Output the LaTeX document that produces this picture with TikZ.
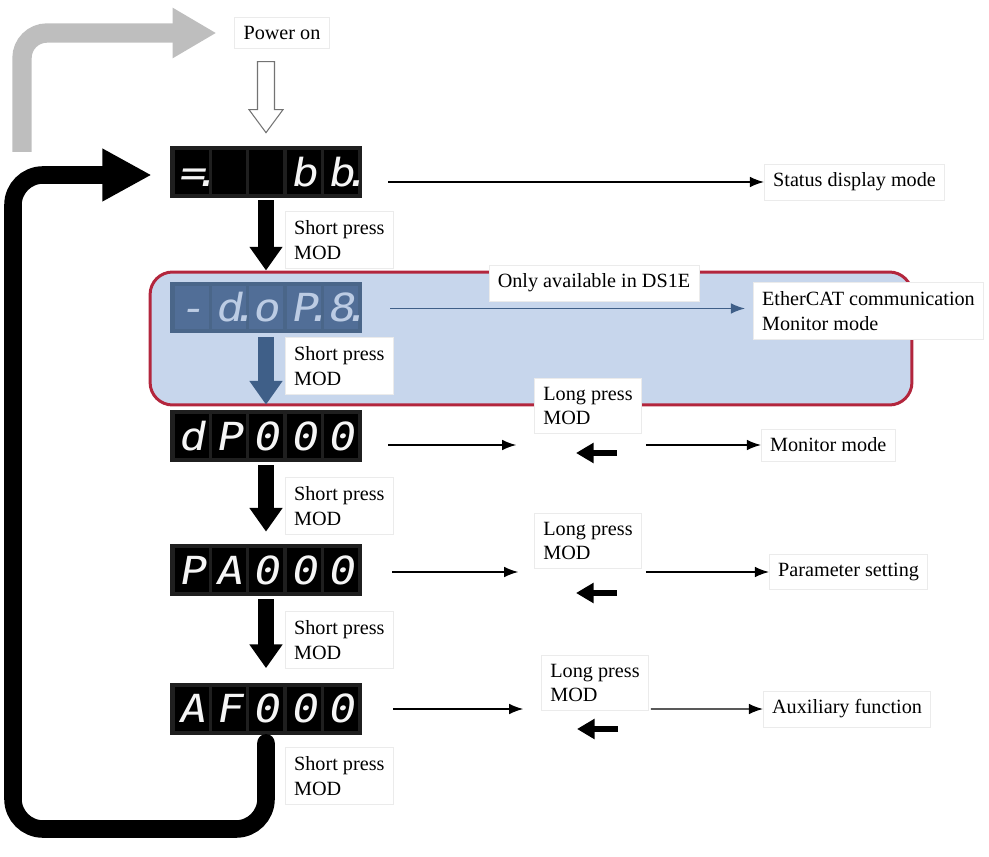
\documentclass[tikz,border=0pt]{standalone}
\usepackage{fontspec}
\setmainfont{Liberation Serif}
\newfontfamily\segfont[FakeSlant=0.18,FakeStretch=1.15]{DejaVu Sans Mono}
\usepackage{tikz}
\usetikzlibrary{positioning,arrows.meta,calc}

\definecolor{panelblue}{HTML}{C7D6EC}
\definecolor{panelred}{HTML}{B3263D}
\definecolor{dispblue}{HTML}{4A6689}
\definecolor{cellblue}{HTML}{52709A}
\definecolor{segblue}{HTML}{BCCCE4}
\definecolor{flowblue}{HTML}{3F5F88}
\definecolor{powergray}{HTML}{BEBEBE}

% one seven-segment display: name, centre, look, five cells
\newcommand{\segdisplay}[4]{%
	\node[disp,#3 disp] (#1) at (#2) {};
	\foreach \ch [count=\k] in {#4}
	\node[cell,#3 cell] at ($(#1.west)+(\k*37.4-15.5,0)$) {\ch};
}
% decimal point after a digit
\newcommand{\segdot}{\rlap{\kern-7pt.}}

\begin{document}
\begin{tikzpicture}[
		x=0.02cm,y=-0.02cm,
		font=\fontsize{11.5}{14}\selectfont,
		tag/.style={
			fill=white,
			draw=black!8,
			align=left,
			inner sep=5pt
		},
		panel/.style={
			draw=panelred,
			fill=panelblue,
			line width=1.7pt,
			rounded corners=0.45cm,
			minimum width=15.24cm,
			minimum height=2.66cm
		},
		disp/.style={
			rectangle,
			inner sep=0pt,
			minimum width=3.84cm,
			minimum height=1.04cm
		},
		cell/.style={
			rectangle,
			inner sep=0pt,
			minimum width=0.68cm,
			minimum height=0.88cm,
			text height=16pt,
			text depth=0pt,
			font=\segfont\fontsize{22}{22}\selectfont
		},
		dark disp/.style={fill=black!88},
		dark cell/.style={fill=black,text=white!92!gray},
		blue disp/.style={fill=dispblue},
		blue cell/.style={fill=cellblue!85!dispblue,text=segblue},
		flowarrow/.style={-{Latex[length=8pt,width=6pt]},line width=0.8pt},
		bigarrow/.style={line width=9pt,-{Triangle[length=13.5pt,width=18pt]}},
		backarrow/.style={line width=3.4pt,-{Triangle[length=10pt,width=11pt]}},
		powerarrow/.style={draw=powergray,line width=11pt,rounded corners=0.5cm,
			-{Triangle[length=25pt,width=27pt]}},
		returnarrow/.style={line width=10pt,rounded corners=0.6cm,line cap=round,
			-{Triangle[length=28pt,width=28pt]}}
		]
		
		\useasboundingbox (0,0) rectangle (989,857);
		
		% panel for DS1E only
		\node[panel] (ds1e) at (531,338.5) {};
		
		% displays
		\segdisplay{st}{266,172}{dark}{{=\segdot},{},{},b,{b\segdot}}
		\segdisplay{dop}{266,307.5}{blue}{-,{d\segdot},o,{P\segdot},{8\segdot}}
		\segdisplay{dp}{266,436}{dark}{d,P,0,0,0}
		\segdisplay{pa}{266,570}{dark}{P,A,0,0,0}
		\segdisplay{af}{266,708.5}{dark}{A,F,0,0,0}
		
		% power on
		\node[tag] (pwr) at (282,33) {Power on};
		\coordinate (pwrfoot) at (22,152);
		\draw[powerarrow] (pwrfoot) |- ([shift={(-18,0)}]pwr.west);
		\draw[fill=white,draw=black!55,line width=0.6pt]
		([shift={(-8.5,-84)}]st.north) -- ++(17,0) -- ++(0,48) -- ++(8.5,0)
		-- ++(-17,23) -- ++(-17,-23) -- ++(8.5,0) -- cycle;
		
		% labels
		\node[tag,anchor=west] (stat) at (764,182) {Status display mode};
		\node[tag] (only) at (594,283) {Only available in DS1E};
		\node[tag,anchor=west] (ecat) at (753,311) {EtherCAT communication\\Monitor mode};
		\node[tag,anchor=west] (sp1) at (285,240) {Short press\\MOD};
		\node[tag,anchor=west] (sp2) at (285,366) {Short press\\MOD};
		\node[tag,anchor=west] (sp3) at (285,506) {Short press\\MOD};
		\node[tag,anchor=west] (sp4) at (285,640) {Short press\\MOD};
		\node[tag,anchor=west] (sp5) at (285,776) {Short press\\MOD};
		\node[tag] (lp1) at (588,406) {Long press\\MOD};
		\node[tag] (lp2) at (588,541) {Long press\\MOD};
		\node[tag] (lp3) at (595,683) {Long press\\MOD};
		\node[tag,anchor=west] (mon) at (761,445) {Monitor mode};
		\node[tag,anchor=west] (par) at (769,572) {Parameter setting};
		\node[tag,anchor=west] (aux) at (763,709) {Auxiliary function};
		
		% mode arrows
		\draw[flowarrow] ([shift={(26,10)}]st.east) -- (stat.west);
		\coordinate (dopa) at ([shift={(28,1)}]dop.east);
		\draw[flowarrow,flowblue,shorten >=0.16cm] (dopa) -- (ecat.west |- dopa);
		
		\coordinate (dpa) at ([shift={(26,9)}]dp.east);
		\draw[flowarrow,shorten >=0.36cm] (dpa) -- (lp1.west |- dpa);
		\draw[flowarrow] ([shift={(4,0)}]lp1.east |- dpa) -- (mon.west);
		\draw[backarrow] ([shift={(29,8)}]lp1.center |- dpa) -- ++(-41,0);
		
		\coordinate (paa) at ([shift={(30,2)}]pa.east);
		\draw[flowarrow,shorten >=0.32cm] (paa) -- (lp2.west |- paa);
		\draw[flowarrow] ([shift={(4,0)}]lp2.east |- paa) -- (par.west);
		\draw[backarrow] ([shift={(29,21)}]lp2.center |- paa) -- ++(-41,0);
		
		\coordinate (afa) at ([shift={(31,0.5)}]af.east);
		\draw[flowarrow,shorten >=0.36cm] (afa) -- (lp3.west |- afa);
		\draw[flowarrow] ([shift={(2,0)}]lp3.east |- afa) -- (aux.west);
		\draw[backarrow] ([shift={(23,20)}]lp3.center |- afa) -- ++(-41,0);
		
		% short press arrows
		\draw[bigarrow] ([shift={(0,2)}]st.south) -- (st.south |- ds1e.north);
		\draw[bigarrow,flowblue] ([shift={(0,3)}]dop.south) -- ([shift={(0,-5)}]dp.north);
		\draw[bigarrow] ([shift={(0,3)}]dp.south) -- ([shift={(0,-12)}]pa.north);
		\draw[bigarrow] ([shift={(0,3)}]pa.south) -- ([shift={(0,-14)}]af.north);
		
		% back to the start
		\coordinate (loopcorner) at (13,829);
		\draw[returnarrow] ([shift={(0,8)}]af.south) |- (loopcorner)
		|- ([shift={(-18,3)}]st.west);
		
	\end{tikzpicture}
\end{document}
